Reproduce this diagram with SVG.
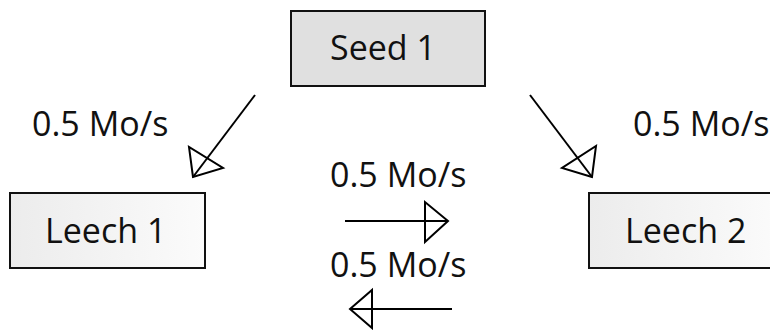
<svg xmlns="http://www.w3.org/2000/svg" width="770" height="330" viewBox="0 0 770 330">
<style>
  text { font-family: "Open Sans", "Noto Sans", "DejaVu Sans", sans-serif; font-size: 34px; fill: #111; }
  .box { stroke: #111; stroke-width: 2; }
  .edge { stroke: #000; stroke-width: 2; fill: none; }
  .head { stroke: #000; stroke-width: 2; fill: none; stroke-linejoin: miter; }
</style>
<defs>
  <linearGradient id="leechFill" x1="0" y1="0" x2="1" y2="0">
    <stop offset="0" stop-color="#ececec"/>
    <stop offset="1" stop-color="#fbfbfb"/>
  </linearGradient>
</defs>
<rect width="770" height="330" fill="#fff"/>
<g id="seed1">
  <rect class="box" x="291" y="11" width="194" height="75" fill="#e0e0e0"/>
  <text x="330" y="60">Seed 1</text>
</g>
<g id="leech1">
  <rect class="box" x="10" y="193" width="195" height="75" fill="url(#leechFill)"/>
  <text x="45" y="243">Leech 1</text>
</g>
<g id="leech2">
  <rect class="box" x="589" y="193" width="190" height="75" fill="url(#leechFill)"/>
  <text x="625" y="243">Leech 2</text>
</g>
<g id="connectors">
  <line class="edge" x1="255" y1="95" x2="193" y2="177"/>
  <polygon class="head" points="193,177 189,147 223,168"/>
  <text x="32" y="136">0.5 Mo/s</text>
  <line class="edge" x1="530" y1="95" x2="592" y2="177"/>
  <polygon class="head" points="592,177 562,168 596,146"/>
  <text x="633" y="136">0.5 Mo/s</text>
  <line class="edge" x1="345" y1="221" x2="448" y2="221"/>
  <polygon class="head" points="448,221 425,202 425,242"/>
  <text x="330" y="187">0.5 Mo/s</text>
  <line class="edge" x1="452" y1="309" x2="350" y2="309"/>
  <polygon class="head" points="350,309 372,290 372,328"/>
  <text x="330" y="277">0.5 Mo/s</text>
</g>
</svg>
